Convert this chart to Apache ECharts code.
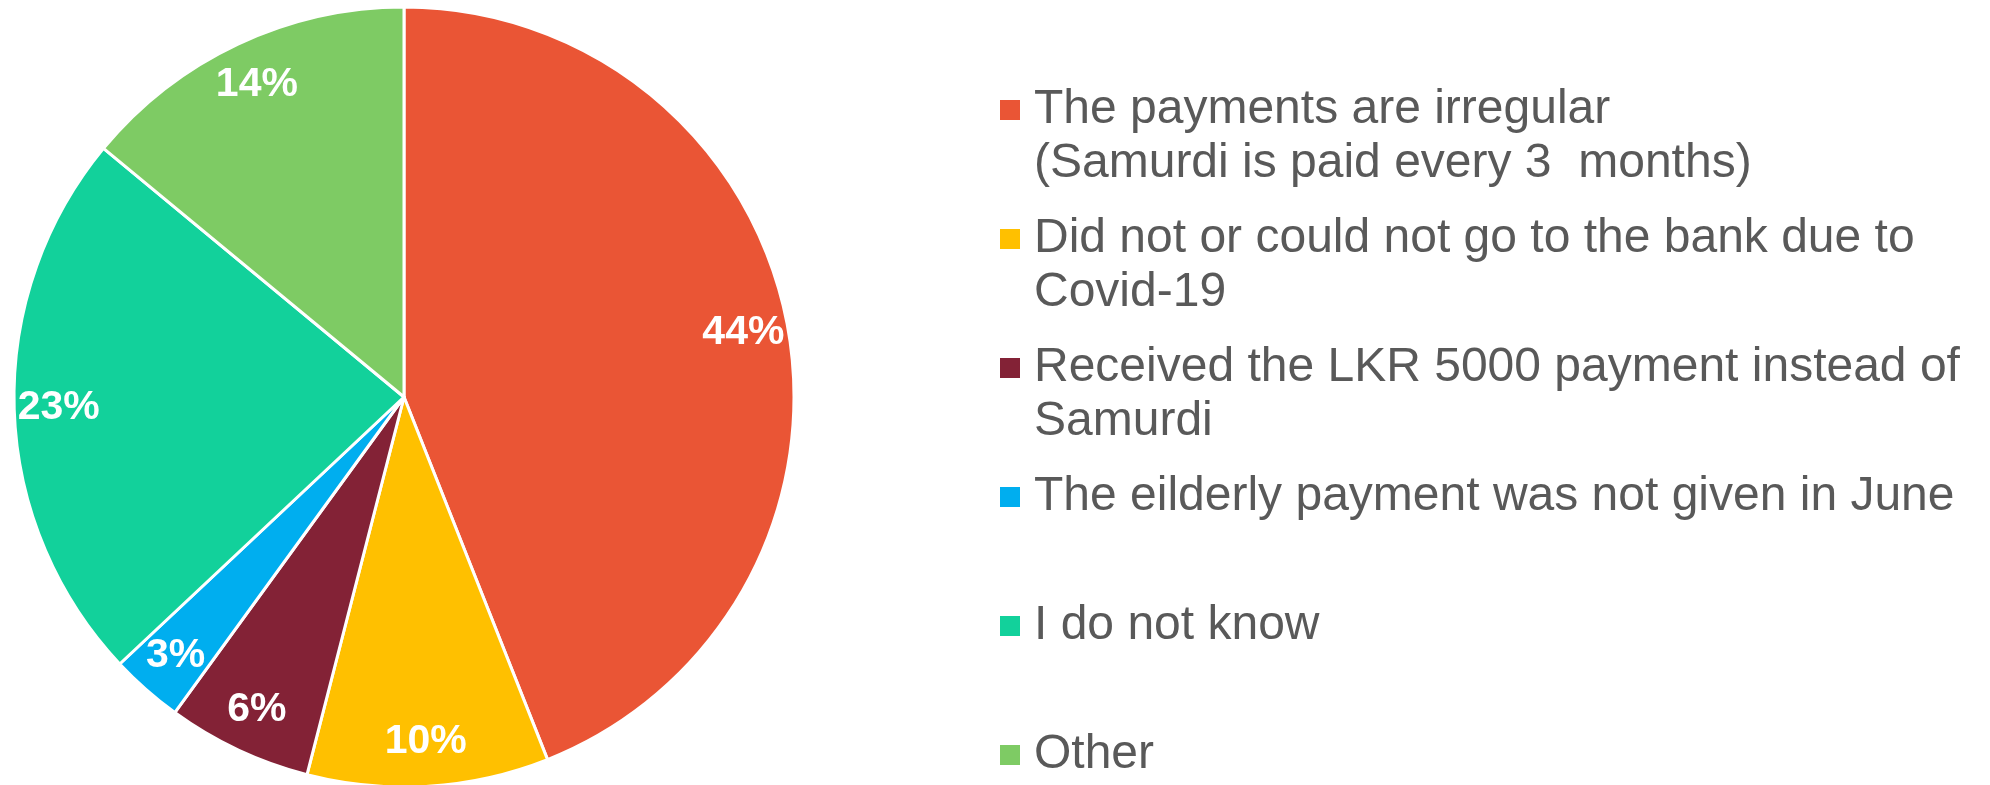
<!DOCTYPE html>
<html>
<head>
<meta charset="utf-8">
<script src="https://cdn.jsdelivr.net/npm/echarts@6/dist/echarts.min.js"></script>
<style>
  html, body { margin: 0; padding: 0; background: #fff; }
  #chart { width: 1990px; height: 785px; }
</style>
</head>
<body>
<div id="chart"></div>
<script>
// reasons given (share of respondents, %)
var reasons = [
  'The payments are irregular\n(Samurdi is paid every 3  months)',
  'Did not or could not go to the bank due to\nCovid-19',
  'Received the LKR 5000 payment instead of\nSamurdi',
  'The eilderly payment was not given in June',
  'I do not know',
  'Other'
];
var shares = [44, 10, 6, 3, 23, 14];
var colors = ['#EA5535', '#FFC000', '#832236', '#00AEEF', '#12D19B', '#7ECB64'];

var pieData = reasons.map(function (name, i) {
  return { name: name, value: shares[i] };
});

var chart = echarts.init(document.getElementById('chart'));
var font = 'Arial, "Liberation Sans", sans-serif';

chart.setOption({
  animation: false,
  color: colors,
  legend: {
    orient: 'vertical',
    left: 1000,
    top: 83,
    height: 780,
    padding: 0,
    itemGap: 21,
    itemWidth: 29,
    itemHeight: 74,
    // square drawn at the top of a tall box so it lines up with the first text line
    icon: 'path://M0,0L20,0L20,20L0,20Z M0,74L29,74',
    itemStyle: { borderWidth: 0 },
    data: reasons,
    formatter: function (name) {
      return name.indexOf('\n') < 0 ? name + '\n ' : name;
    },
    textStyle: {
      color: '#595959',
      fontFamily: font,
      fontSize: 48,
      lineHeight: 54
    }
  },
  series: [
    {
      type: 'pie',
      center: [404, 397],
      radius: [0, 390],
      startAngle: 90,
      clockwise: true,
      label: { show: false },
      labelLine: { show: false },
      itemStyle: { borderColor: '#fff', borderWidth: 3 },
      emphasis: { disabled: true },
      data: pieData
    },
    {
      // same slices, transparent ring: only used to place the % labels near the rim
      type: 'pie',
      center: [404, 397],
      radius: [290, 395],
      startAngle: 90,
      clockwise: true,
      silent: true,
      itemStyle: { color: 'rgba(0,0,0,0)', borderWidth: 0 },
      label: {
        show: true,
        position: 'inside',
        formatter: '{c}%',
        color: '#fff',
        fontFamily: font,
        fontWeight: 'bold',
        fontSize: 41
      },
      labelLine: { show: false },
      emphasis: { disabled: true },
      data: pieData
    }
  ]
});
</script>
</body>
</html>
